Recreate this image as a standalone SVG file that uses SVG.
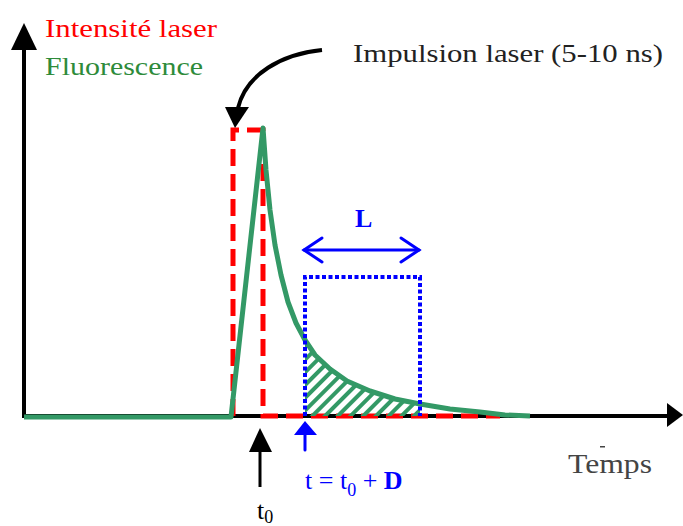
<svg xmlns="http://www.w3.org/2000/svg" width="683" height="526" viewBox="0 0 683 526">
<style>
text{font-family:"Liberation Serif","Times New Roman",serif}
.ax{stroke:#000;stroke-width:4;fill:none}
.red{stroke:#ff0000;stroke-width:5;fill:none;stroke-dasharray:17 8}
.grn{stroke:#339966;stroke-width:5;fill:none;stroke-linejoin:round}
.blu{stroke:#0000ff;stroke-width:4;fill:none;stroke-dasharray:4 2.5}
</style>
<defs>
<pattern id="hatch" patternUnits="userSpaceOnUse" width="9" height="9" patternTransform="rotate(45)">
<rect x="0" y="0" width="4" height="9" fill="#339966"/>
</pattern>
<clipPath id="under">
<polygon points="305,340 315,355 330,369 347,381 370,391 395,399 420,404 420,416 305,416"/>
</clipPath>
</defs>
<g id="axes">
<line class="ax" x1="24" y1="48" x2="24" y2="418"/>
<polygon points="24,23 11,50 37,50" fill="#000"/>
<line class="ax" x1="22" y1="416" x2="668" y2="416"/>
<polygon points="683,415 667,403 667,427" fill="#000"/>
</g>
<g id="laser">
<path class="red" d="M233,416 V130 H263 V416 H500"/>
</g>
<g id="fluorescence">
<polyline class="grn" points="24,417 231,417 263,128 266,170 270,210 275,245 281,275 288,302 296,323 305,340 315,355 330,369 347,381 370,391 395,399 420,404 450,409 480,412 505,415 530,416"/>
<rect x="305" y="330" width="115" height="88" fill="url(#hatch)" clip-path="url(#under)"/>
</g>
<g id="window">
<path class="blu" d="M305,416 V277 H420 V416"/>
</g>
<g id="connectors">
<path d="M322,50 C282,54 246,74 238,108" fill="none" stroke="#000" stroke-width="4"/>
<polygon points="235,128 225,107 249,107" fill="#000"/>
<g stroke="#0000ff" stroke-width="3" fill="none" stroke-linecap="round">
<line x1="304" y1="250" x2="419" y2="250"/>
<polyline points="322,238 304,250 322,262"/>
<polyline points="401,238 419,250 401,262"/>
<line x1="305" y1="430" x2="305" y2="450"/>
</g>
<polygon points="305,421 294,435 317,435" fill="#0000ff"/>
<line x1="260" y1="445" x2="260" y2="487" stroke="#000" stroke-width="3"/>
<polygon points="260,428 249,452 272,452" fill="#000"/>
</g>
<g id="labels">
<text x="45" y="37" font-family="Liberation Serif, serif" font-size="26" fill="#ff0000" textLength="172" lengthAdjust="spacingAndGlyphs">Intensité laser</text>
<text x="45" y="75" font-family="Liberation Serif, serif" font-size="26" fill="#2e8b3a" textLength="158" lengthAdjust="spacingAndGlyphs">Fluorescence</text>
<text x="353" y="62" font-family="Liberation Serif, serif" font-size="26" fill="#222" textLength="310" lengthAdjust="spacingAndGlyphs">Impulsion laser (5-10 ns)</text>
<text x="355" y="227" font-family="Liberation Serif, serif" font-size="26" font-weight="bold" fill="#0000ff">L</text>
<text x="305" y="489" font-family="Liberation Serif, serif" font-size="26" fill="#0000ff">t = t<tspan font-size="18" dy="7">0</tspan><tspan dy="-7"> + </tspan><tspan font-weight="bold">D</tspan></text>
<text x="257" y="519" font-family="Liberation Serif, serif" font-size="26" fill="#000">t<tspan font-size="18" dy="4">0</tspan></text>
<text x="568" y="473" font-family="Liberation Serif, serif" font-size="27" fill="#444" textLength="84" lengthAdjust="spacingAndGlyphs">Temps</text>
<rect x="600" y="446" width="5" height="1.5" fill="#444"/>
</g>
</svg>
